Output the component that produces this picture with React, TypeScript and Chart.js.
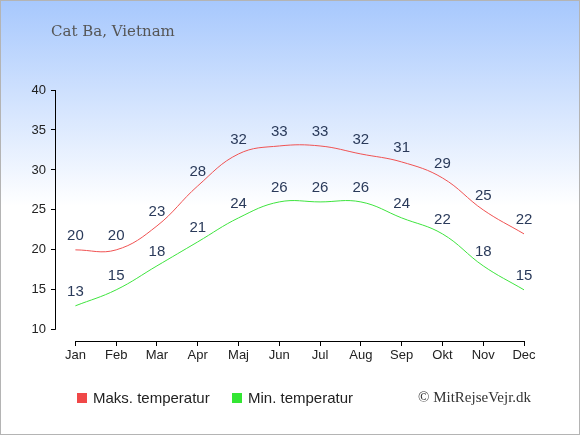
import React, { useEffect, useRef } from 'react';
import Chart from 'chart.js/auto';

const months = ['Jan', 'Feb', 'Mar', 'Apr', 'Maj', 'Jun', 'Jul', 'Aug', 'Sep', 'Okt', 'Nov', 'Dec'];
const maxTemps = [20, 20, 23, 28, 32, 33, 33, 32, 31, 29, 25, 22];
const minTemps = [13, 15, 18, 21, 24, 26, 26, 26, 24, 22, 18, 15];
const yTicks = [10, 15, 20, 25, 30, 35, 40];

const FONT = '"Liberation Sans", Arial, sans-serif';

// draws the value above each point
const valueLabels = {
  id: 'valueLabels',
  afterDatasetsDraw(chart: Chart) {
    const ctx = chart.ctx;
    ctx.save();
    ctx.font = `15px ${FONT}`;
    ctx.fillStyle = '#2a3a5a';
    ctx.textAlign = 'center';
    ctx.textBaseline = 'middle';
    chart.data.datasets.forEach((ds, i) => {
      const meta = chart.getDatasetMeta(i);
      meta.data.forEach((pt: any, j: number) => {
        const v = (ds.data[j] as any).y;
        ctx.fillText(String(v), pt.x, pt.y - 14);
      });
    });
    ctx.restore();
  },
};

// axis lines that run only between the first and last tick
const axisLines = {
  id: 'axisLines',
  afterDraw(chart: Chart) {
    const ctx = chart.ctx;
    const x = chart.scales.x;
    const y = chart.scales.y;
    const area = chart.chartArea;
    ctx.save();
    ctx.strokeStyle = '#000';
    ctx.lineWidth = 1;
    ctx.beginPath();
    const lx = Math.round(area.left) + 0.5;
    ctx.moveTo(lx, y.getPixelForValue(yTicks[0]));
    ctx.lineTo(lx, y.getPixelForValue(yTicks[yTicks.length - 1]));
    const by = Math.round(area.bottom) + 0.5;
    ctx.moveTo(x.getPixelForValue(0), by);
    ctx.lineTo(x.getPixelForValue(months.length - 1), by);
    ctx.stroke();
    ctx.restore();
  },
};

const CatBaChart: React.FC = () => {
  const chartRef = useRef<HTMLCanvasElement>(null);
  const chartInstance = useRef<Chart | null>(null);

  useEffect(() => {
    document.body.style.margin = '0';
    if (!chartRef.current) return;
    const ctx = chartRef.current.getContext('2d');
    if (!ctx) return;

    chartInstance.current = new Chart(ctx, {
      type: 'line',
      data: {
        datasets: [
          {
            label: 'Maks. temperatur',
            data: maxTemps.map((v, i) => ({ x: i, y: v })),
            borderColor: '#f05252',
            borderWidth: 1,
            pointRadius: 0,
            tension: 0.4,
            fill: false,
          },
          {
            label: 'Min. temperatur',
            data: minTemps.map((v, i) => ({ x: i, y: v })),
            borderColor: '#3ee43e',
            borderWidth: 1,
            pointRadius: 0,
            tension: 0.4,
            fill: false,
          },
        ],
      },
      options: {
        animation: false,
        responsive: false,
        layout: { padding: { top: 90, right: 56, bottom: 64, left: 0 } },
        plugins: {
          legend: { display: false },
          tooltip: { enabled: false },
        },
        scales: {
          x: {
            type: 'linear',
            min: -0.5,
            max: 11,
            afterBuildTicks: (scale: any) => {
              scale.ticks = months.map((_, i) => ({ value: i }));
            },
            afterFit: (scale: any) => {
              scale.height = 30;
            },
            ticks: {
              callback: (v: any) => months[v],
              color: '#222',
              font: { family: FONT, size: 13 },
              padding: 2,
              maxRotation: 0,
              autoSkip: false,
            },
            grid: { drawOnChartArea: false, drawTicks: true, tickLength: 5, color: '#000' },
            border: { display: false },
          },
          y: {
            min: 8.6,
            max: 40,
            afterBuildTicks: (scale: any) => {
              scale.ticks = yTicks.map((v) => ({ value: v }));
            },
            afterFit: (scale: any) => {
              scale.width = 55;
            },
            ticks: {
              color: '#222',
              font: { family: FONT, size: 13 },
              padding: 5,
            },
            grid: { drawOnChartArea: false, drawTicks: true, tickLength: 4, color: '#000' },
            border: { display: false },
          },
        },
      },
      plugins: [valueLabels, axisLines],
    });

    return () => {
      if (chartInstance.current) {
        chartInstance.current.destroy();
        chartInstance.current = null;
      }
    };
  }, []);

  const legendItem = (color: string, text: string, left: number) => (
    <div style={{ position: 'absolute', left, top: 388, display: 'flex', alignItems: 'center', fontFamily: FONT, fontSize: 15, color: '#222' }}>
      <span style={{ display: 'inline-block', width: 10, height: 10, background: color, marginRight: 6 }} />
      {text}
    </div>
  );

  return (
    <div
      style={{
        position: 'absolute',
        left: 0,
        top: 0,
        width: 578,
        height: 433,
        border: '1px solid #b4b4b4',
        background: 'linear-gradient(to bottom, #a7c8fd 0px, #ffffff 205px, #ffffff 100%)',
        overflow: 'hidden',
      }}
    >
      <canvas ref={chartRef} width={580} height={435} style={{ position: 'absolute', left: -1, top: -1 }} />
      <div style={{ position: 'absolute', left: 50, top: 21, fontFamily: '"DejaVu Serif", serif', fontSize: 15, color: '#555' }}>
        Cat Ba, Vietnam
      </div>
      {legendItem('#f04848', 'Maks. temperatur', 76)}
      {legendItem('#33e633', 'Min. temperatur', 231)}
      <div style={{ position: 'absolute', left: 417, top: 388, fontFamily: '"Liberation Serif", serif', fontSize: 15, color: '#333' }}>
        © MitRejseVejr.dk
      </div>
    </div>
  );
};

export default function App() {
  return <CatBaChart />;
}
